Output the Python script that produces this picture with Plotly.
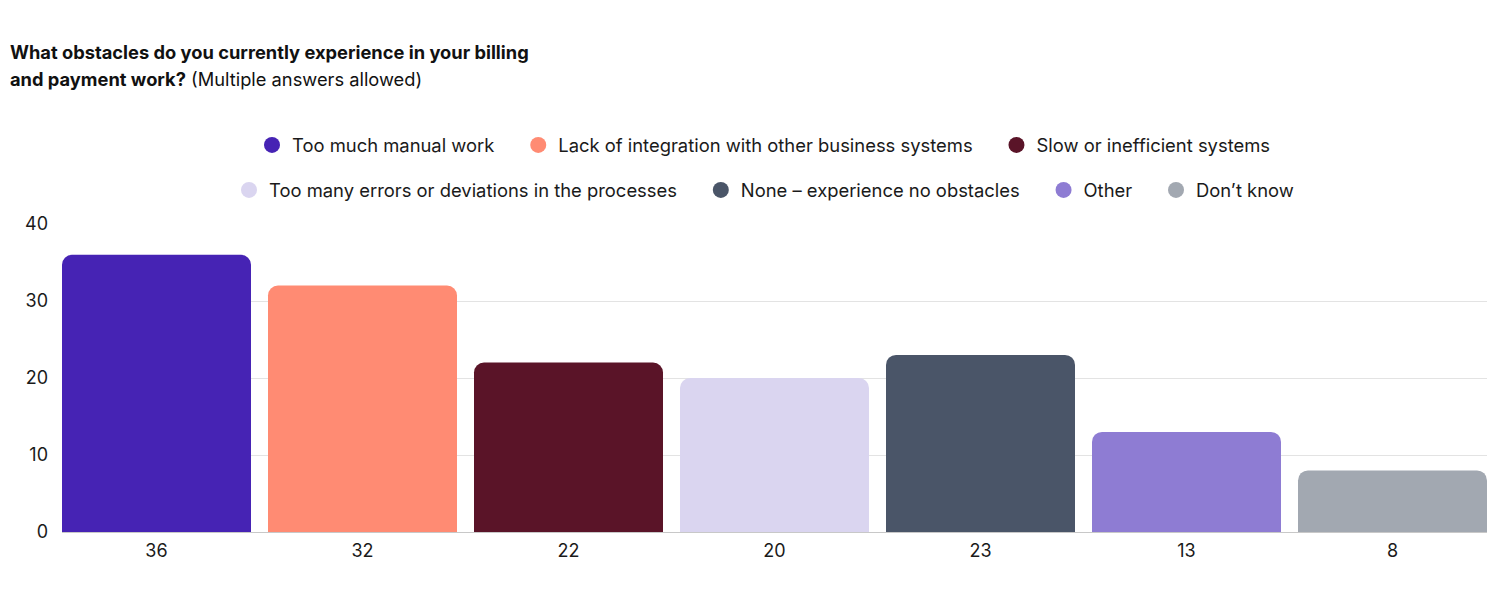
import plotly.graph_objects as go

categories = ["Too much manual work", "Lack of integration with other business systems",
              "Slow or inefficient systems", "Too many errors or deviations in the processes",
              "None – experience no obstacles", "Other", "Don’t know"]
values = [36, 32, 22, 20, 23, 13, 8]
tick_labels = ["36", "32", "22", "20", "23", "13", "8"]
colors = ["#4623b4", "#ff8b73", "#5a1428", "#dad5f0", "#4a5568", "#8e7cd3", "#a2a8b1"]
legend_rows = ["legend", "legend", "legend", "legend2", "legend2", "legend2", "legend2"]
last_in_row = [False, False, True, False, False, False, True]

FONT = "Inter, Roboto, sans-serif"
PAD = "&nbsp;" * 3 + "&#8201;"
BARGAP = 0.0825
fig = go.Figure()
for name, val, lab, col in zip(categories, values, tick_labels, colors):
    fig.add_trace(go.Bar(x=[lab], y=[val], name=name, marker=dict(color=col, line=dict(width=0)),
                         showlegend=False, hoverinfo="y"))
for name, col, lg, last in zip(categories, colors, legend_rows, last_in_row):
    fig.add_trace(go.Scatter(x=[None], y=[None], mode="markers", name=name + ("" if last else PAD),
                             legend=lg, marker=dict(color=col, size=16, symbol="circle")))

PLOT_TOP, PLOT_BOTTOM, PLOT_LEFT, PLOT_W = 224, 532, 62, 1425
legend_common = dict(orientation="h", xanchor="center", x=(764 - PLOT_LEFT) / PLOT_W,
                     yref="container", yanchor="middle",
                     font=dict(family=FONT, size=18.4, color="#1a1a1a"), bgcolor="rgba(0,0,0,0)")
fig.update_layout(
    width=1500, height=600, template="none",
    paper_bgcolor="white", plot_bgcolor="white",
    margin=dict(l=PLOT_LEFT, r=13, t=PLOT_TOP, b=68, autoexpand=False),
    barmode="overlay", bargap=BARGAP, barcornerradius=10,
    font=dict(family=FONT, size=18, color="#1a1a1a"),
    legend=dict(legend_common, y=1 - 145 / 600),
    legend2=dict(legend_common, y=1 - 190 / 600),
    xaxis=dict(type="category", categoryorder="array", categoryarray=tick_labels, automargin=False,
               range=[-0.5 + BARGAP / 2, len(tick_labels) - 0.5 - BARGAP / 2],
               showgrid=False, showline=True, linecolor="#c8c8c8", linewidth=1,
               ticks="", tickfont=dict(size=18, family=FONT, color="#1a1a1a"), ticklabelstandoff=2),
    yaxis=dict(range=[0, 40], dtick=10, showgrid=True, gridcolor="#e3e3e3", gridwidth=1, automargin=False,
               zeroline=False, showline=False, ticks="",
               tickfont=dict(size=18, family=FONT, color="#1a1a1a"), ticklabelstandoff=13),
)
title_lines = ["<b>What obstacles do you currently experience in your billing</b>",
               "<b>and payment work?</b> (Multiple answers allowed)"]
for line, ypix in zip(title_lines, [52, 79]):
    fig.add_annotation(text=line, xref="paper", yref="paper",
                       x=(8 - PLOT_LEFT) / PLOT_W, xanchor="left",
                       y=(PLOT_BOTTOM - ypix) / (PLOT_BOTTOM - PLOT_TOP), yanchor="middle",
                       showarrow=False, align="left",
                       font=dict(family=FONT, size=18.3, color="#111111"))
fig.write_html("out.html", config={"displayModeBar": False},
               post_script="document.body.style.margin='0';")
